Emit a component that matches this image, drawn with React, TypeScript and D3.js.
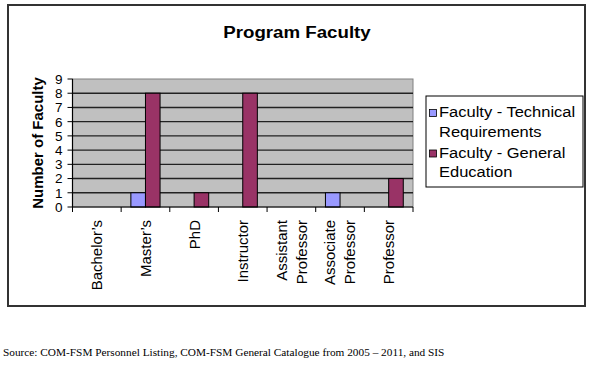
import React from "react";
import * as d3 from "d3";

const categories: string[][] = [
  ["Bachelor’s"],
  ["Master’s"],
  ["PhD"],
  ["Instructor"],
  ["Assistant", "Professor"],
  ["Associate", "Professor"],
  ["Professor"],
];
const technical = [0, 1, 0, 0, 0, 1, 0];
const general = [0, 8, 1, 8, 0, 0, 2];
const yTicks = [0, 1, 2, 3, 4, 5, 6, 7, 8, 9];
const seriesNames = [
  ["Faculty - Technical", "Requirements"],
  ["Faculty - General", "Education"],
];
const seriesColors = ["#9999ff", "#993366"];

const W = 592;
const H = 367;
const plot = { left: 72.5, right: 413, top: 79, bottom: 207 };

export default function App() {
  const x = d3
    .scaleBand<number>()
    .domain(d3.range(categories.length))
    .range([plot.left, plot.right])
    .paddingInner(0)
    .paddingOuter(0);
  const y = d3.scaleLinear().domain([0, 9]).range([plot.bottom, plot.top]);
  const bw = x.bandwidth() * 0.3;
  const sans = "'Liberation Sans', Arial, sans-serif";
  const boundaries = d3.range(categories.length + 1).map((i) =>
    i < categories.length ? (x(i) as number) : plot.right
  );

  return (
    <svg
      width={W}
      height={H}
      style={{ position: "absolute", left: 0, top: 0, background: "#fff" }}
      fontFamily={sans}
    >
      {/* outer chart border */}
      <rect x={8} y={5} width={577} height={301} fill="#fff" stroke="#333" strokeWidth={2} />
      {/* title */}
      <text x={297} y={38} textAnchor="middle" fontSize={17} fontWeight="bold" fill="#000"
        transform="translate(297,0) scale(1.1,1) translate(-297,0)">
        Program Faculty
      </text>
      {/* plot background */}
      <rect x={plot.left} y={plot.top} width={plot.right - plot.left} height={plot.bottom - plot.top}
        fill="#c0c0c0" stroke="#808080" strokeWidth={1} />
      {/* gridlines */}
      {yTicks.slice(1, -1).map((t) => (
        <line key={t} x1={plot.left} x2={plot.right} y1={y(t)} y2={y(t)} stroke="#222" strokeWidth={1.4} />
      ))}
      {/* bars */}
      {categories.map((_, i) => {
        const cx = (x(i) as number) + x.bandwidth() / 2;
        return (
          <g key={i}>
            {technical[i] > 0 && (
              <rect x={cx - bw} y={y(technical[i])} width={bw} height={y(0) - y(technical[i])}
                fill={seriesColors[0]} stroke="#000" strokeWidth={1} />
            )}
            {general[i] > 0 && (
              <rect x={cx} y={y(general[i])} width={bw} height={y(0) - y(general[i])}
                fill={seriesColors[1]} stroke="#000" strokeWidth={1} />
            )}
          </g>
        );
      })}
      {/* y axis */}
      <line x1={plot.left} x2={plot.left} y1={plot.top} y2={plot.bottom} stroke="#000" strokeWidth={1.2} />
      {yTicks.map((t) => (
        <g key={t}>
          <line x1={plot.left - 5} x2={plot.left} y1={y(t)} y2={y(t)} stroke="#000" strokeWidth={1} />
          <text x={plot.left - 10} y={y(t)} dy="0.36em" textAnchor="end" fontSize={13.5} fill="#000">
            {t}
          </text>
        </g>
      ))}
      {/* x axis */}
      <line x1={plot.left} x2={plot.right} y1={plot.bottom} y2={plot.bottom} stroke="#000" strokeWidth={1.2} />
      {boundaries.map((b, i) => (
        <line key={i} x1={b} x2={b} y1={plot.bottom} y2={plot.bottom + 5} stroke="#000" strokeWidth={1} />
      ))}
      {categories.map((lines, i) => {
        const cx = (x(i) as number) + x.bandwidth() / 2;
        const lh = 20;
        return lines.map((ln, j) => {
          const off = (j - (lines.length - 1) / 2) * lh;
          return (
            <text key={i + "-" + j} transform={`translate(${cx + off},220) rotate(-90)`}
              dy="0.36em" textAnchor="end" fontSize={15} fill="#000">
              {ln}
            </text>
          );
        });
      })}
      {/* y title */}
      <text transform={`translate(43,${(plot.top + plot.bottom) / 2}) rotate(-90)`} textAnchor="middle"
        fontSize={15} fontWeight="bold" fill="#000">
        Number of Faculty
      </text>
      {/* legend */}
      <rect x={426} y={96} width={157} height={91} fill="#fff" stroke="#000" strokeWidth={1} />
      {seriesNames.map((lines, i) => {
        const base = 117.5 + i * 40.5;
        return (
          <g key={i}>
            <rect x={429.5} y={base - 8} width={7} height={7} fill={seriesColors[i]} stroke="#000" strokeWidth={0.8} />
            {lines.map((ln, j) => (
              <text key={j} x={439} y={base + j * 19.5} fontSize={15} fill="#000"
                transform={`translate(439,0) scale(1.1,1) translate(-439,0)`}>
                {ln}
              </text>
            ))}
          </g>
        );
      })}
      {/* source */}
      <text x={3} y={356} fontSize={11.3} fontFamily="'Liberation Serif', 'Times New Roman', serif" fill="#000">
        Source: COM-FSM Personnel Listing, COM-FSM General Catalogue from 2005 – 2011, and SIS
      </text>
    </svg>
  );
}
